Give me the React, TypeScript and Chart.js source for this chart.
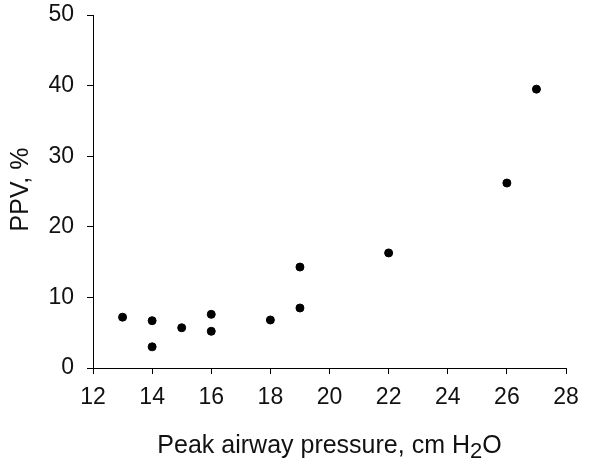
import React, { useEffect, useRef } from "react";
import { Chart, registerables } from "chart.js";

Chart.register(...registerables);

const pressure = [13, 14, 14, 15, 16, 16, 18, 19, 19, 22, 26, 27];
const ppv = [7.2, 6.7, 3.0, 5.7, 7.6, 5.2, 6.8, 14.3, 8.5, 16.3, 26.2, 39.5];
const xTitleMain = "Peak airway pressure, cm H";
const xTitleSub = "2";
const xTitleEnd = "O";
const yTitle = "PPV, %";

const FONT = "'Liberation Sans', Arial, sans-serif";

const titlesPlugin = {
  id: "titles",
  afterDraw(chart: any) {
    const { ctx, chartArea } = chart;
    ctx.save();
    ctx.fillStyle = "#111";
    ctx.font = `25px ${FONT}`;
    ctx.textAlign = "center";
    ctx.textBaseline = "alphabetic";
    ctx.translate(28, (chartArea.top + chartArea.bottom) / 2 - 2);
    ctx.rotate(-Math.PI / 2);
    ctx.fillText(yTitle, 0, 0);
    ctx.restore();

    ctx.save();
    ctx.fillStyle = "#111";
    ctx.textBaseline = "alphabetic";
    ctx.textAlign = "left";
    ctx.font = `25px ${FONT}`;
    const w1 = ctx.measureText(xTitleMain).width;
    ctx.font = `22px ${FONT}`;
    const w2 = ctx.measureText(xTitleSub).width;
    ctx.font = `25px ${FONT}`;
    const w3 = ctx.measureText(xTitleEnd).width;
    const total = w1 + w2 + w3;
    const cx = (chartArea.left + chartArea.right) / 2;
    let x = cx - total / 2;
    const base = 453;
    ctx.fillText(xTitleMain, x, base);
    x += w1;
    ctx.font = `22px ${FONT}`;
    ctx.fillText(xTitleSub, x, base + 5);
    x += w2;
    ctx.font = `25px ${FONT}`;
    ctx.fillText(xTitleEnd, x, base);
    ctx.restore();
  },
};

export default function App() {
  const ref = useRef<HTMLCanvasElement>(null);
  useEffect(() => {
    if (!ref.current) return;
    const chart = new Chart(ref.current, {
      type: "scatter",
      data: {
        datasets: [
          {
            data: pressure.map((p, i) => ({ x: p, y: ppv[i] })),
            backgroundColor: "#000",
            borderColor: "#000",
            pointRadius: 4,
            pointHoverRadius: 4,
          },
        ],
      },
      options: {
        animation: false,
        responsive: false,
        layout: { padding: { top: 15, right: 34, left: 0, bottom: 0 } },
        plugins: { legend: { display: false }, tooltip: { enabled: false } },
        scales: {
          x: {
            type: "linear",
            min: 12,
            max: 28,
            afterFit(scale: any) {
              scale.height = 99;
              scale.paddingLeft = 0;
              scale.paddingRight = 0;
            },
            ticks: {
              stepSize: 2,
              color: "#111",
              font: { family: FONT, size: 23 },
              padding: 10,
              maxRotation: 0,
            },
            grid: {
              drawOnChartArea: false,
              drawTicks: true,
              tickLength: 6,
              color: "#000",
            },
            border: { display: true, color: "#000", width: 1 },
          },
          y: {
            type: "linear",
            min: 0,
            max: 50,
            afterFit(scale: any) {
              scale.width = 93;
              scale.paddingTop = 0;
              scale.paddingBottom = 0;
            },
            ticks: {
              stepSize: 10,
              color: "#111",
              font: { family: FONT, size: 23 },
              padding: 13,
            },
            grid: {
              drawOnChartArea: false,
              drawTicks: true,
              tickLength: 6,
              color: "#000",
            },
            border: { display: true, color: "#000", width: 1 },
          },
        },
      },
      plugins: [titlesPlugin],
    });
    return () => chart.destroy();
  }, []);
  return (
    <div style={{ position: "fixed", left: 0, top: 0, width: 600, height: 467, background: "#fff" }}>
      <canvas ref={ref} width={600} height={467} style={{ width: 600, height: 467 }} />
    </div>
  );
}
